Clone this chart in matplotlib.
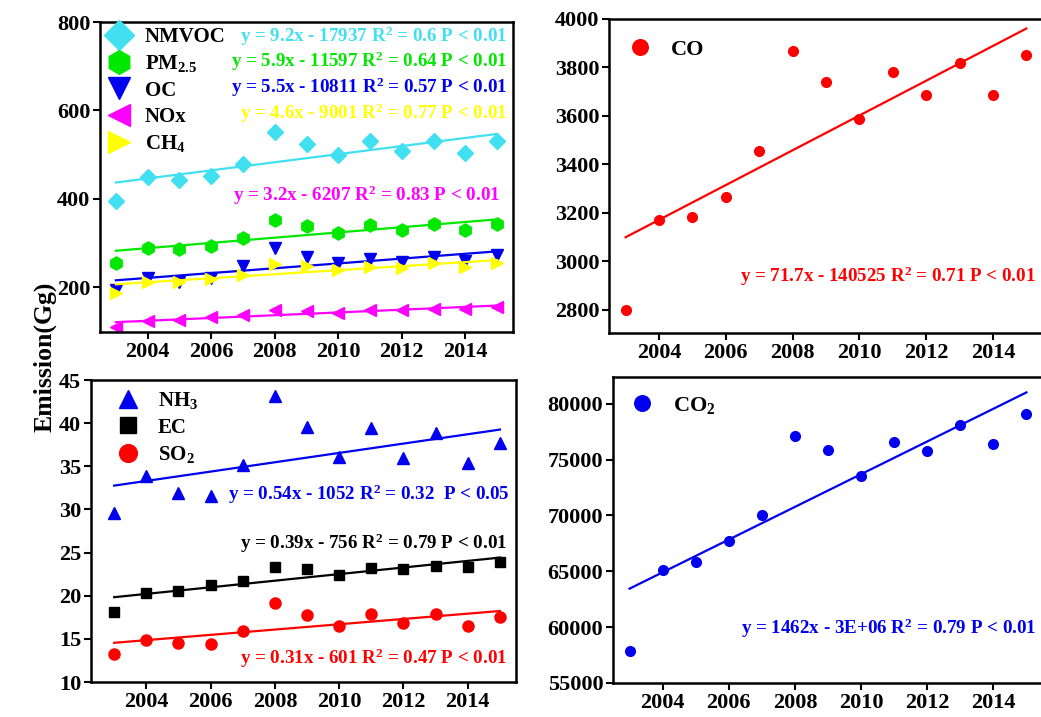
import numpy as np
import matplotlib
matplotlib.use("Agg")
import matplotlib.pyplot as plt

plt.rcParams['font.family'] = ['Liberation Serif', 'DejaVu Serif']
plt.rcParams['font.weight'] = 'bold'
plt.rcParams['mathtext.fontset'] = 'custom'
plt.rcParams['mathtext.rm'] = 'Liberation Serif:bold'
plt.rcParams['mathtext.it'] = 'Liberation Serif:bold'
plt.rcParams['mathtext.bf'] = 'Liberation Serif:bold'
plt.rcParams['mathtext.default'] = 'rm'

years = np.arange(2003, 2016)

# top left panel
nmvoc = [395, 449, 443, 452, 478, 551, 524, 499, 530, 508, 532, 504, 531]
pm25 = [256, 290, 287, 293, 312, 353, 339, 322, 340, 330, 343, 329, 343]
oc = [194, 222, 213, 220, 249, 288, 269, 254, 265, 257, 268, 260, 273]
nox = [110, 124, 127, 132, 137, 148, 146, 143, 148, 148, 152, 151, 155]
ch4 = [188, 213, 213, 219, 228, 252, 248, 239, 246, 244, 254, 245, 256]

# top right
co = [2801, 3170, 3184, 3266, 3454, 3866, 3741, 3589, 3783, 3686, 3818, 3686, 3850]

# bottom left
nh3 = [29.6, 33.9, 31.9, 31.6, 35.1, 43.1, 39.5, 36.1, 39.4, 36.0, 38.8, 35.4, 37.7]
ec = [18.1, 20.3, 20.5, 21.2, 21.7, 23.3, 23.1, 22.4, 23.2, 23.1, 23.5, 23.3, 23.9]
so2 = [13.2, 14.9, 14.5, 14.4, 15.9, 19.2, 17.8, 16.5, 17.9, 16.8, 17.9, 16.5, 17.5]

# bottom right
co2 = [57840, 65150, 65810, 67750, 70020, 77160, 75820, 73520, 76600, 75790, 78060, 76420, 79100]

cyan = '#40e0f0'
green = '#00e800'
blue = '#0000ee'
magenta = '#ff00ff'
yellow = '#ffff00'
red = '#ff0000'

fig = plt.figure(figsize=(10.41, 7.17), dpi=100)
W, H = 1041, 717

def make_ax(l, r, t, b):
    return fig.add_axes([l / W, (H - b) / H, (r - l) / W, (b - t) / H])

ax1 = make_ax(100, 513, 22, 332)
ax2 = make_ax(609, 1043, 19, 333)
ax3 = make_ax(91, 516, 380, 682)
ax4 = make_ax(613, 1043, 377, 683)

def series(ax, y, color, marker, ms, label):
    ln, = ax.plot(years, y, linestyle='none', marker=marker, color=color, ms=ms, label=label)
    k, b = np.polyfit(years, y, 1)
    ax.plot(years, k * years + b, color=color, lw=1.6)
    return ln

def style(ax):
    for s in ax.spines.values():
        s.set_linewidth(1.8)
    ax.tick_params(width=1.5, length=5, labelsize=16, direction='out', pad=2)
    ax.set_xticks([2004, 2006, 2008, 2010, 2012, 2014])
    plt.setp(ax.get_xticklabels() + ax.get_yticklabels(), fontweight='bold')

tfont = dict(fontsize=13.7, fontweight='bold', ha='right', va='center')

# --- top left
h1 = [series(ax1, nmvoc, cyan, 'D', 8.5, 'NMVOC'),
      series(ax1, pm25, green, 'h', 9.5, 'PM$_{2.5}$'),
      series(ax1, oc, blue, 'v', 9, 'OC'),
      series(ax1, nox, magenta, '<', 9, 'NOx'),
      series(ax1, ch4, yellow, '>', 9, 'CH$_4$')]
ax1.set_xlim(2002.5, 2015.5)
ax1.set_ylim(99, 800)
ax1.set_yticks([200, 400, 600, 800])
style(ax1)
ax1.legend(handles=h1, loc='upper left', frameon=False, markerscale=1.8,
           fontsize=15, handletextpad=0.6, labelspacing=0.3, borderaxespad=0.1,
           handlelength=1.3, borderpad=0.15)
ax1.text(0.985, 0.955, 'y = 9.2x - 17937 R$^2$ = 0.6 P < 0.01', color=cyan, transform=ax1.transAxes, **tfont)
ax1.text(0.985, 0.872, 'y = 5.9x - 11597 R$^2$ = 0.64 P < 0.01', color=green, transform=ax1.transAxes, **tfont)
ax1.text(0.985, 0.788, 'y = 5.5x - 10811 R$^2$ = 0.57 P < 0.01', color=blue, transform=ax1.transAxes, **tfont)
ax1.text(0.985, 0.707, 'y = 4.6x - 9001 R$^2$ = 0.77 P < 0.01', color=yellow, transform=ax1.transAxes, **tfont)
ax1.text(0.97, 0.44, 'y = 3.2x - 6207 R$^2$ = 0.83 P < 0.01', color=magenta, transform=ax1.transAxes, **tfont)

# --- top right
h2 = [series(ax2, co, red, 'o', 7, 'CO')]
ax2.set_xlim(2002.5, 2015.5)
ax2.set_ylim(2705, 4000)
ax2.set_yticks(np.arange(2800, 4001, 200))
style(ax2)
ax2.legend(handles=h2, loc='upper left', frameon=False, markerscale=1.6,
           fontsize=16, handletextpad=0.9, borderaxespad=0.5, handlelength=1.0)
ax2.text(0.983, 0.18, 'y = 71.7x - 140525 R$^2$ = 0.71 P < 0.01', color=red, transform=ax2.transAxes, **tfont)

# --- bottom left
h3 = [series(ax3, nh3, blue, '^', 8, 'NH$_3$'),
      series(ax3, ec, 'black', 's', 7, 'EC'),
      series(ax3, so2, red, 'o', 8, 'SO$_2$')]
ax3.set_xlim(2002.28, 2015.5)
ax3.set_ylim(10, 45)
ax3.set_yticks(np.arange(10, 46, 5))
style(ax3)
ax3.legend(handles=h3, loc='upper left', bbox_to_anchor=(0.03, 1.0), frameon=False,
           markerscale=1.6, fontsize=15, handletextpad=0.8, labelspacing=0.3,
           borderaxespad=0.3, handlelength=1.3, borderpad=0.2)
ax3.text(0.985, 0.62, 'y = 0.54x - 1052 R$^2$ = 0.32  P < 0.05', color=blue, transform=ax3.transAxes, **tfont)
ax3.text(0.98, 0.46, 'y = 0.39x - 756 R$^2$ = 0.79 P < 0.01', color='black', transform=ax3.transAxes, **tfont)
ax3.text(0.98, 0.08, 'y = 0.31x - 601 R$^2$ = 0.47 P < 0.01', color=red, transform=ax3.transAxes, **tfont)

# --- bottom right
h4 = [series(ax4, co2, blue, 'o', 7, 'CO$_2$')]
ax4.set_xlim(2002.5, 2015.5)
ax4.set_ylim(55000, 82400)
ax4.set_yticks(np.arange(55000, 80001, 5000))
style(ax4)
ax4.legend(handles=h4, loc='upper left', frameon=False, markerscale=1.6,
           fontsize=16, handletextpad=0.9, borderaxespad=0.4, handlelength=1.0)
ax4.text(0.985, 0.18, 'y = 1462x - 3E+06 R$^2$ = 0.79 P < 0.01', color=blue, transform=ax4.transAxes, **tfont)

fig.text(45 / W, 1 - 357 / H, 'Emission(Gg)', rotation=90, ha='center', va='center',
         fontsize=18.5, fontweight='bold')

fig.savefig('out.png', dpi=100)
